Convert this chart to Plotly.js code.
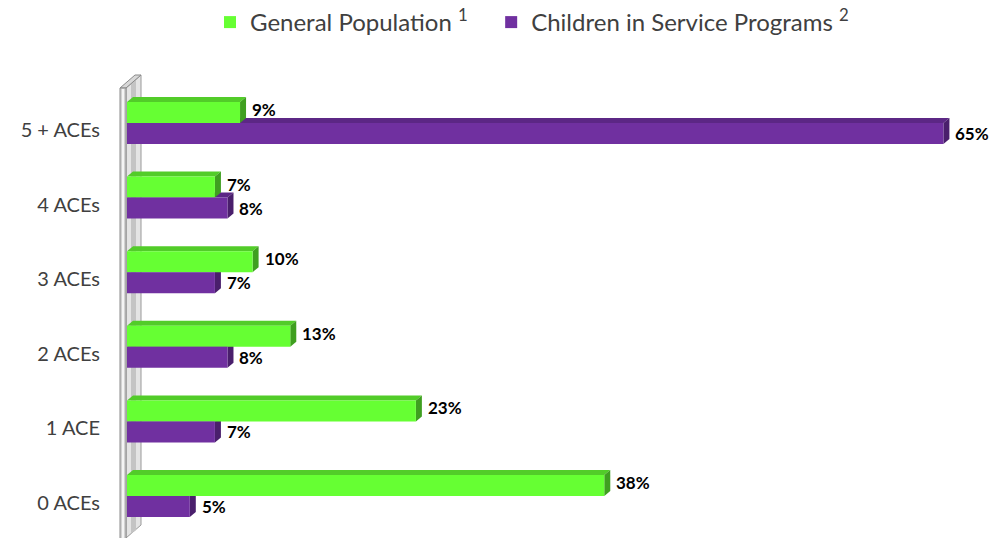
<!DOCTYPE html>
<html>
<head>
<meta charset="utf-8">
<script src="https://cdn.plot.ly/plotly-3.0.1.min.js"></script>
<style>html,body{margin:0;padding:0;background:#fff;}#chart{width:989px;height:538px;}</style>
</head>
<body>
<div id="chart"></div>
<script>
// ---- data ----
const categories = ['0 ACEs', '1 ACE', '2 ACEs', '3 ACEs', '4 ACEs', '5 + ACEs'];
const generalPopulation = [38, 23, 13, 10, 7, 9];
const childrenInService = [5, 7, 8, 7, 8, 65];
const seriesNames = ['General Population <sup>1</sup>&nbsp;&nbsp;&nbsp;', 'Children in Service Programs <sup>2</sup>'];
const valueLabels1 = generalPopulation.map(v => v + '%');
const valueLabels2 = childrenInService.map(v => v + '%');

// ---- layout constants ----
const W = 989, H = 538, ML = 127, MR = 0, MT = 80, MB = 0;
const plotW = W - ML - MR, plotH = H - MT - MB;
const xMax = 68.63;
const yLo = -0.469, yHi = 5.670;
const pxX = plotW / xMax, pxY = plotH / (yHi - yLo);
const dx = 6 / pxX, dy = 5 / pxY;       // 3D depth offset
const barW = 0.2815;
const offGreen = 0.094, offPurple = -0.188;
const positions = categories.map((c, i) => i);

const green = '#66FF33', greenTop = '#52CC29', greenSide = '#3F9F20';
const purple = '#7030A0', purpleTop = '#5C2785', purpleSide = '#4A1F6C';
const FONT = 'Lato, "Open Sans", sans-serif';

const traces = [
  { type: 'bar', orientation: 'h', name: seriesNames[0], x: generalPopulation, y: positions,
    offset: offGreen, width: barW, marker: { color: green }, hoverinfo: 'x' },
  { type: 'bar', orientation: 'h', name: seriesNames[1], x: childrenInService, y: positions,
    offset: offPurple, width: barW, marker: { color: purple }, hoverinfo: 'x' }
];

function faces(values, off, topC, sideC) {
  const out = [];
  values.forEach((v, i) => {
    const yb = positions[i] + off, yt = yb + barW;
    out.push({ type: 'path', xref: 'x', yref: 'y', layer: 'below', fillcolor: topC, line: { width: 0 },
      path: `M0,${yt} L${v},${yt} L${v + dx},${yt + dy} L${dx},${yt + dy} Z` });
    out.push({ type: 'path', xref: 'x', yref: 'y', layer: 'below', fillcolor: sideC, line: { width: 0 },
      path: `M${v},${yb} L${v},${yt} L${v + dx},${yt + dy} L${v + dx},${yb + dy} Z` });
  });
  return out;
}

// wall in pixel coordinates converted to paper
const PX = p => (p - ML) / plotW;
const PY = p => (H - MB - p) / plotH;
function poly(pts, fill, lc) {
  return { type: 'path', xref: 'paper', yref: 'paper', layer: 'below', fillcolor: fill,
    line: { color: lc, width: 1 },
    path: 'M' + pts.map(p => PX(p[0]) + ',' + PY(p[1])).join(' L') + ' Z' };
}
const wall = [
  poly([[126, 88], [141, 75], [141, 525], [126, 538]], '#e4e4e4', '#9a9a9a'),
  poly([[131, 84], [136, 79], [136, 530], [131, 534]], '#c4c4c4', 'rgba(0,0,0,0)'),
  poly([[120, 88], [126, 88], [141, 75], [135, 75]], '#d8d8d8', '#8a8a8a'),
  poly([[120, 88], [126, 88], [126, 540], [120, 540]], '#d2d2d2', '#8a8a8a'),
  poly([[122, 89], [124, 89], [124, 540], [122, 540]], '#f4f4f4', 'rgba(0,0,0,0)')
];

const shapes = [].concat(wall,
  faces(childrenInService, offPurple, purpleTop, purpleSide),
  faces(generalPopulation, offGreen, greenTop, greenSide));

const annotations = [];
generalPopulation.forEach((v, i) => annotations.push({
  x: v, y: positions[i] + offGreen + barW / 2, text: valueLabels1[i], showarrow: false,
  xanchor: 'left', yanchor: 'middle', xshift: 10, yshift: 3,
  font: { family: FONT, size: 17, color: '#000', weight: 'bold' } }));
childrenInService.forEach((v, i) => annotations.push({
  x: v, y: positions[i] + offPurple + barW / 2, text: valueLabels2[i], showarrow: false,
  xanchor: 'left', yanchor: 'middle', xshift: 10, yshift: 0,
  font: { family: FONT, size: 17, color: '#000', weight: 'bold' } }));

const layout = {
  width: W, height: H,
  margin: { l: ML, r: MR, t: MT, b: MB, pad: 0 },
  paper_bgcolor: '#fff', plot_bgcolor: 'rgba(0,0,0,0)',
  barmode: 'overlay',
  showlegend: true,
  legend: { orientation: 'h', x: PX(210), xanchor: 'left', y: PY(22), yanchor: 'middle',
    font: { family: FONT, size: 24, color: '#404040' }, bgcolor: 'rgba(0,0,0,0)', traceorder: 'normal' },
  xaxis: { range: [0, xMax], showgrid: false, zeroline: false, showline: false, showticklabels: false, fixedrange: true },
  yaxis: { range: [yLo, yHi], tickvals: positions, ticktext: categories, showgrid: false, zeroline: false,
    showline: false, ticks: 'outside', ticklen: 22, tickcolor: 'rgba(0,0,0,0)',
    tickfont: { family: FONT, size: 20, color: '#404040' }, fixedrange: true },
  shapes: shapes,
  annotations: annotations,
  font: { family: FONT }
};

Plotly.newPlot('chart', traces, layout, { displayModeBar: false, staticPlot: true });
</script>
</body>
</html>
